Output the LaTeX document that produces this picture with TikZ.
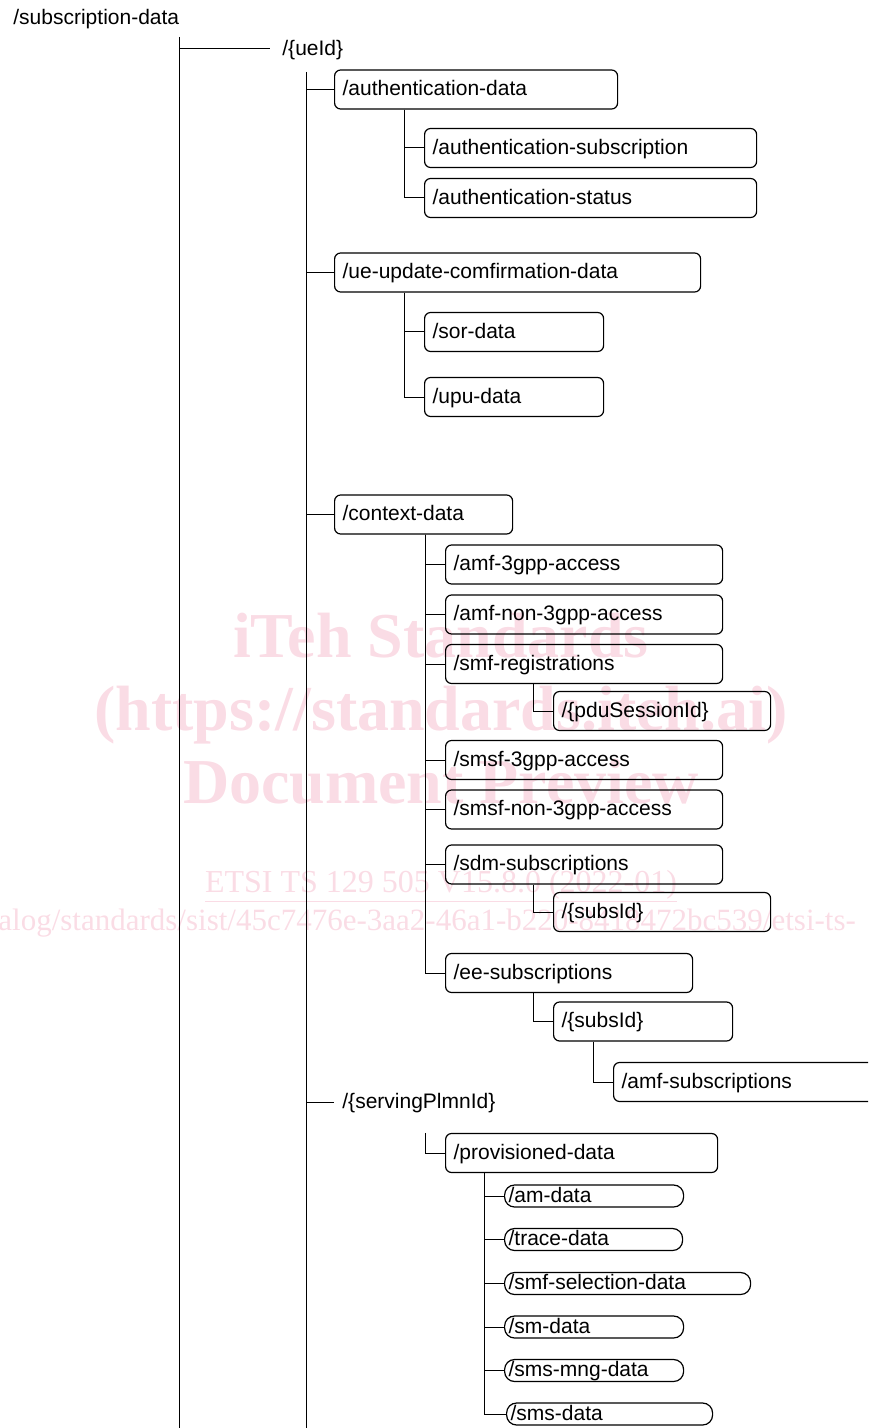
\documentclass[tikz,border=0pt]{standalone}
\usepackage{fontspec}
\setmainfont{Liberation Sans}
\newfontfamily\wmfont{Liberation Serif}
\usepackage{tikz}
\definecolor{wmpink}{RGB}{250,220,229}

\begin{document}
\begin{tikzpicture}[x=0.5pt,y=-0.5pt]

	\tikzstyle branch lines=[line width=0.5pt];
	\tikzstyle resource box=[draw, line width=0.6pt, rounded corners=3pt, anchor=west, align=left, inner xsep=4pt, inner ysep=0pt, minimum height=19.5pt, text height=7.8pt, text depth=1.6pt, font=\fontsize{10.5}{12}\selectfont];
	\tikzstyle leaf box=[resource box, rounded corners=5pt, inner xsep=2pt, minimum height=11pt];
	\tikzstyle plain label=[anchor=west, inner xsep=4pt, inner ysep=0pt, text height=7.8pt, text depth=1.6pt, font=\fontsize{10.5}{12}\selectfont];
	\tikzstyle watermark=[text=wmpink, inner sep=0pt, font=\wmfont\bfseries\fontsize{32}{36}\selectfont];

	\clip (0,0) rectangle (868,1428);

	% watermark
	\node[watermark, anchor=base] (wm1) at (441,657) {iTeh Standards};
	\node[watermark, anchor=base] (wm2) at (441,730) {(https://standards.iteh.ai)};
	\node[watermark, anchor=base] (wm3) at (441,803) {Document Preview};
	\node[watermark, anchor=base, font=\wmfont\fontsize{16}{18}\selectfont] (wm4) at (441,892) {\underline{ETSI TS 129 505 V15.8.0 (2022-01)}};
	\node[watermark, anchor=base west, font=\wmfont\fontsize{15.5}{18}\selectfont] (wm5) at (-2,930) {alog/standards/sist/45c7476e-3aa2-46a1-b220-8418472bc539/etsi-ts-};

	\node[plain label, inner xsep=2pt] (root) at (9,18) {/subscription-data};
	\node[plain label, inner xsep=6pt] (ueid) at (270,49) {/\{ueId\}};

	\coordinate (roottop) at (179,37);
	\coordinate (rootend) at (179,1428);
	\draw[branch lines] (roottop) -- (rootend);
	\draw[branch lines] (roottop |- ueid.west) -- (ueid.west);

	\node[resource box, text width=133.5pt] (authdata) at (334,89.5) {/authentication-data};
	\node[resource box, text width=175pt] (ueupd) at (334,272.5) {/ue-update-comfirmation-data};
	\node[resource box, text width=81pt] (ctxdata) at (334,514.5) {/context-data};
	\node[plain label] (plmn) at (334,1102) {/\{servingPlmnId\}};

	\coordinate (ueidtop) at (306,72);
	\coordinate (ueidend) at (306,1428);
	\draw[branch lines] (ueidtop) -- (ueidend);
	\foreach \c in {authdata,ueupd,ctxdata,plmn}
		\draw[branch lines] (ueidtop |- \c.west) -- (\c.west);

	% authentication-data
	\foreach \name/\y/\label in {authsub/148/authentication-subscription,authstat/198/authentication-status}
	{
		\node[resource box, text width=158pt] (\name) at (424,\y) {/\label};
		\draw[branch lines] ([xshift=-10pt]\name.west |- authdata.south) |- (\name.west);
	}

	% ue-update-comfirmation-data
	\foreach \name/\y/\label in {sordata/332/sor-data,upudata/397/upu-data}
	{
		\node[resource box, text width=81.5pt] (\name) at (424,\y) {/\label};
		\draw[branch lines] ([xshift=-10pt]\name.west |- ueupd.south) |- (\name.west);
	}

	% context-data
	\foreach \name/\y/\w/\label in {amf3gpp/564.5/130.5/amf-3gpp-access,amfnon3gpp/614.5/130.5/amf-non-3gpp-access,smfreg/664/130.5/smf-registrations,smsf3gpp/760/130.5/smsf-3gpp-access,smsfnon3gpp/809.5/130.5/smsf-non-3gpp-access,sdmsubs/864.5/130.5/sdm-subscriptions,eesubs/973/115.5/ee-subscriptions}
	{
		\node[resource box, text width=\w pt] (\name) at (445,\y) {/\label};
		\draw[branch lines] ([xshift=-10pt]\name.west |- ctxdata.south) |- (\name.west);
	}

	\node[resource box, text width=100.5pt] (pdusess) at (553,711) {/\{pduSessionId\}};
	\draw[branch lines] ([xshift=-10pt]pdusess.west |- smfreg.south) |- (pdusess.west);

	\node[resource box, text width=100.5pt] (sdmsubsid) at (553,912) {/\{subsId\}};
	\draw[branch lines] ([xshift=-10pt]sdmsubsid.west |- sdmsubs.south) |- (sdmsubsid.west);

	\node[resource box, text width=81.5pt] (eesubsid) at (553,1021.5) {/\{subsId\}};
	\draw[branch lines] ([xshift=-10pt]eesubsid.west |- eesubs.south) |- (eesubsid.west);

	\node[resource box, text width=137pt] (amfsubs) at (613,1082) {/amf-subscriptions};
	\draw[branch lines] ([xshift=-10pt]amfsubs.west |- eesubsid.south) |- (amfsubs.west);

	% servingPlmnId
	\node[resource box, text width=128pt] (prov) at (445,1153) {/provisioned-data};
	\draw[branch lines] ([xshift=-10pt]prov.west |- prov.north) |- (prov.west);

	\coordinate (provtrunk) at (484,1153);
	\foreach \name/\x/\y/\w/\label in {amdata/504/1196/85.5/am-data,tracedata/504/1239.5/85/trace-data,smfseldata/504/1283.5/119/smf-selection-data,smdata/504/1327/85.5/sm-data,smsmngdata/504/1370.5/85.5/sms-mng-data,smsdata/506/1414/99/sms-data}
	{
		\node[leaf box, text width=\w pt] (\name) at (\x,\y) {/\label};
		\draw[branch lines] (provtrunk |- prov.south) |- (\name.west);
	}

\end{tikzpicture}
\end{document}
